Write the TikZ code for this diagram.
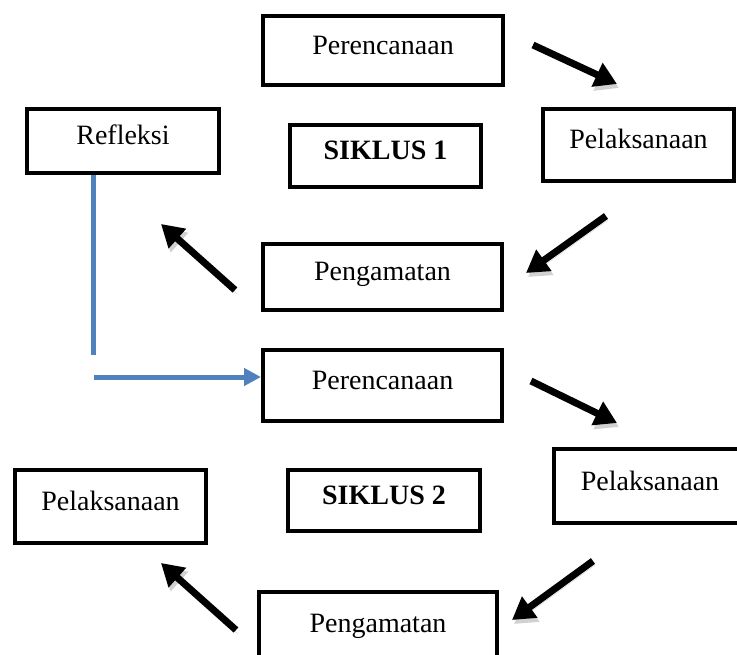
\documentclass[tikz,border=0pt]{standalone}
\usepackage{fontspec}
\setmainfont{Liberation Serif}
\usetikzlibrary{arrows.meta}
\definecolor{lineblue}{HTML}{4F81BD}
\tikzset{
  stage/.style={draw, line width=4pt, inner sep=0pt,
    font=\fontsize{28}{30}\selectfont, text height=18pt, text depth=10pt},
  cyclebox/.style={stage, font=\fontsize{28}{30}\selectfont\bfseries},
  flow/.style={line width=7pt, -{Triangle[length=22pt,width=25pt]},
    preaction={draw=black!18, transform canvas={shift={(2pt,-4pt)}}}},
  link/.style={lineblue, line width=5pt},
}

\begin{document}
\begin{tikzpicture}[x=1pt, y=-1pt]
    \useasboundingbox (0,0) rectangle (737,655);
    \clip (0,0) rectangle (737,655);

    % Siklus 1
    \node[stage, minimum width=240pt, minimum height=69pt] (per1) at (383,50.5) {Perencanaan};
    \node[stage, minimum width=192pt, minimum height=64pt] (ref1) at (123,141) {Refleksi};
    \node[cyclebox, minimum width=191pt, minimum height=62pt] (sik1) at (385.5,156) {SIKLUS 1};
    \node[stage, minimum width=191pt, minimum height=72pt] (pel1) at (638.5,145) {Pelaksanaan};
    \node[stage, minimum width=239pt, minimum height=66pt] (pen1) at (382.5,277) {Pengamatan};

    \coordinate (a1s) at (533,45);  \coordinate (a1e) at (617,84);
    \coordinate (a2s) at (606,216); \coordinate (a2e) at (526,273);
    \coordinate (a3s) at (235,290); \coordinate (a3e) at (161,224);
    \draw[flow] (a1s) -- (a1e);
    \draw[flow] (a2s) -- (a2e);
    \draw[flow] (a3s) -- (a3e);

    % Siklus 2
    \node[stage, minimum width=239pt, minimum height=71pt] (per2) at (382.5,385.5) {Perencanaan};
    \node[stage, minimum width=192pt, minimum height=74pt] (pel2) at (650,486) {Pelaksanaan};
    \node[stage, minimum width=191pt, minimum height=73pt] (ref2) at (110.5,506.5) {Pelaksanaan};
    \node[cyclebox, minimum width=192pt, minimum height=61pt] (sik2) at (384,500.5) {SIKLUS 2};
    \node[stage, minimum width=238pt, minimum height=72pt] (pen2) at (378,628) {Pengamatan};

    \coordinate (a4s) at (531,381); \coordinate (a4e) at (617,423);
    \coordinate (a5s) at (593,561); \coordinate (a5e) at (512,620);
    \coordinate (a6s) at (236,630); \coordinate (a6e) at (161,563);
    \draw[flow] (a4s) -- (a4e);
    \draw[flow] (a5s) -- (a5e);
    \draw[flow] (a6s) -- (a6e);

    % Refleksi ke siklus 2
    \coordinate (b1) at (93,355);
    \coordinate (b2) at (94,377);
    \draw[link] (ref1.south -| b1) -- (b1);
    \draw[link, -{Triangle[length=17pt,width=17pt]}] (b2) -- (b2 -| per2.west);
\end{tikzpicture}
\end{document}
